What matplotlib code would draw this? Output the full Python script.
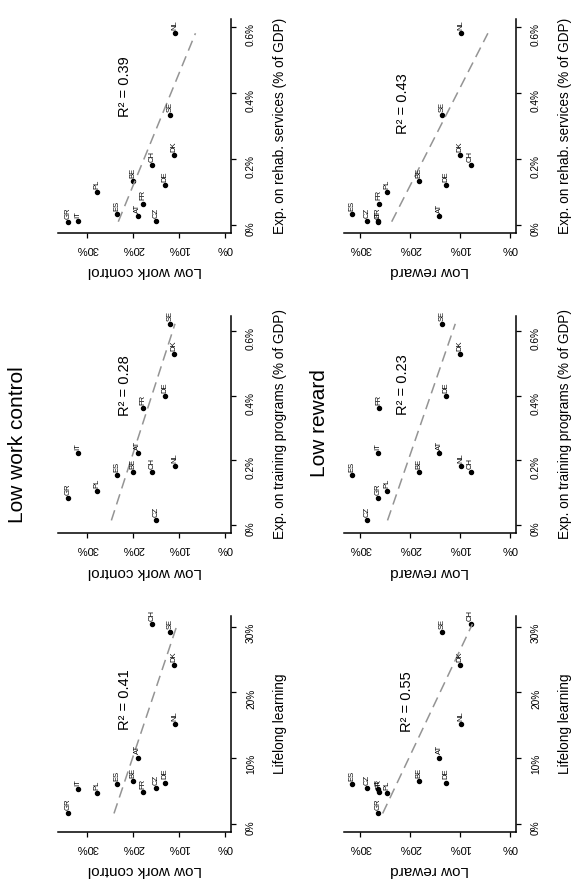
import numpy as np
import matplotlib.pyplot as plt

plt.rcParams['font.family'] = ['Liberation Sans', 'DejaVu Sans']

# datos (13 paises)
paises = ['GR', 'IT', 'PL', 'ES', 'BE', 'AT', 'FR', 'CZ', 'CH', 'DE', 'NL', 'DK', 'SE']
low_control = [34.2, 32.0, 28.0, 23.5, 20.0, 19.0, 17.8, 15.1, 15.9, 13.1, 10.9, 11.1, 12.0]
low_reward = [26.4, 26.5, 24.6, 31.7, 18.2, 14.2, 26.2, 28.6, 7.9, 12.9, 9.9, 10.0, 13.6]
lifelong = [1.6, 5.3, 4.7, 6.1, 6.5, 10.1, 4.8, 5.5, 30.4, 6.3, 15.2, 24.2, 29.2]
training = [0.082, 0.223, 0.104, 0.153, 0.164, 0.223, 0.362, 0.014, 0.165, 0.40, 0.182, 0.53, 0.622]
rehab = [0.010, 0.011, 0.100, 0.033, 0.133, 0.027, 0.065, 0.013, 0.182, 0.121, 0.581, 0.213, 0.332]

# R^2 de cada panel: filas (rehab, training, lifelong) x columnas (control, reward)
r2_textos = [['0.39', '0.43'], ['0.28', '0.23'], ['0.41', '0.55']]

outcomes = [('Low work control', low_control, 35), ('Low reward', low_reward, 32)]
exposiciones = [
    ('Exp. on rehab. services (% of GDP)', rehab, 0.6, [0, 0.2, 0.4, 0.6], ['0%', '0.2%', '0.4%', '0.6%']),
    ('Exp. on training programs (% of GDP)', training, 0.622, [0, 0.2, 0.4, 0.6], ['0%', '0.2%', '0.4%', '0.6%']),
    ('Lifelong learning', lifelong, 30.4, [0, 10, 20, 30], ['0%', '10%', '20%', '30%']),
]

# posiciones de los ejes (figura escaneada y girada 90 grados)
col_left = [0.1016, 0.6018]
col_width = [0.3037, 0.3026]
row_bottom = [0.7377, 0.3998, 0.0631]
row_height = [0.2408, 0.2446, 0.2432]
r2_pos = [[(0.386, 0.684), (0.344, 0.603)],
          [(0.386, 0.677), (0.344, 0.681)],
          [(0.386, 0.611), (0.367, 0.602)]]

fig = plt.figure(figsize=(5.71, 8.88), dpi=100)

for fila, (xlab, xvals, xmax, xticks, xticklabels) in enumerate(exposiciones):
    for col, (ylab, yvals, ymax) in enumerate(outcomes):
        ax = fig.add_axes([col_left[col], row_bottom[fila], col_width[col], row_height[fila]])
        x = np.array(xvals)
        y = np.array(yvals)

        # eje horizontal = outcome (invertido), eje vertical = exposicion
        ax.plot(y, x, 'o', color='black', ms=2.9)
        for p, xi, yi in zip(paises, x, y):
            ax.annotate(p, (yi, xi), xytext=(0, 2.2), textcoords='offset points',
                        rotation=90, ha='center', va='bottom', fontsize=5.5)

        pend, ord0 = np.polyfit(x, y, 1)
        xl = np.array([x.min(), x.max()])
        ax.plot(pend * xl + ord0, xl, color='#949494', lw=1.1, ls=(0, (7, 4)))

        pad_y = ymax * 0.04
        pad_x = xmax * 0.04
        ax.set_xlim(ymax + pad_y, -pad_y)
        ax.set_ylim(-pad_x, xmax + pad_x)

        ax.set_xticks([0, 10, 20, 30])
        ax.set_xticklabels(['0%', '10%', '20%', '30%'])
        ax.set_yticks(xticks)
        ax.set_yticklabels(xticklabels)
        ax.yaxis.tick_right()
        ax.yaxis.set_label_position('right')
        ax.tick_params(axis='x', labelrotation=180, labelsize=8, length=3.5, width=0.9, pad=4.5)
        ax.tick_params(axis='y', labelrotation=90, labelsize=7.3, length=3.5, width=0.9, pad=7)

        ax.spines['top'].set_visible(False)
        ax.spines['left'].set_visible(False)
        ax.spines['bottom'].set_linewidth(1.1)
        ax.spines['right'].set_linewidth(1.1)

        ax.set_xlabel(ylab, rotation=180, fontsize=11, labelpad=7.5)
        ax.set_ylabel(xlab, rotation=90, fontsize=9.8, labelpad=12)

        fx, fy = r2_pos[fila][col]
        ax.text(fx, fy, 'R² = ' + r2_textos[fila][col], transform=ax.transAxes,
                rotation=90, ha='center', va='center', fontsize=10.5)

fig.text(0.0315, 0.4990, 'Low work control', rotation=90, ha='center', va='center', fontsize=15)
fig.text(0.5587, 0.5237, 'Low reward', rotation=90, ha='center', va='center', fontsize=15)

fig.savefig('out.png', dpi=100)
